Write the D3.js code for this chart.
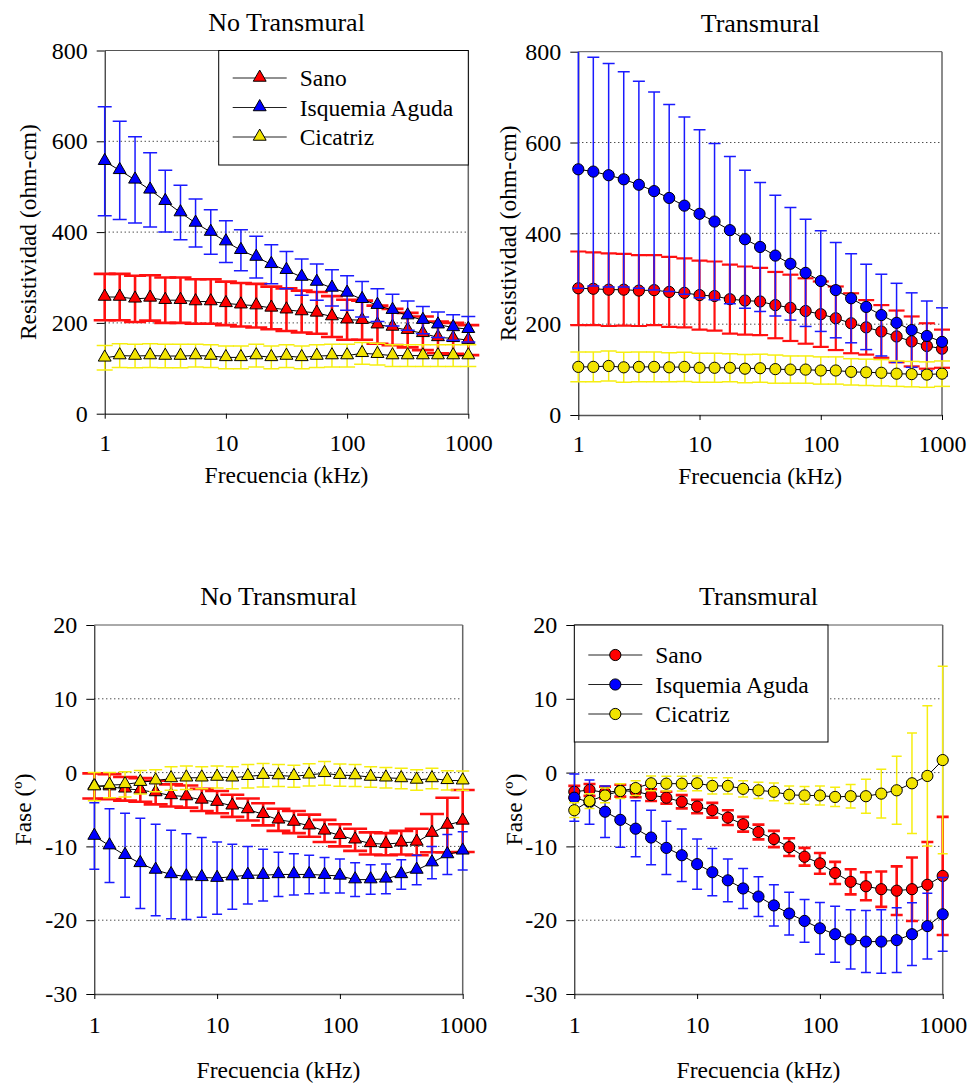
<!DOCTYPE html>
<html>
<head>
<meta charset="utf-8">
<script src="https://cdn.jsdelivr.net/npm/d3@7"></script>
<style>
body { margin: 0; background: #fff; }
svg, svg text { font-family: "Liberation Serif", "Times New Roman", Times, serif; }
</style>
</head>
<body>
<div id="chart"></div>
<script>
// frecuencias (kHz)
const freq = [1, 1.33, 1.78, 2.37, 3.16, 4.22, 5.62, 7.5, 10, 13.3, 17.8, 23.7, 31.6, 42.2, 56.2, 75, 100, 133, 178, 237, 316, 422, 562, 750, 1000];
const seriesNames = ["Sano", "Isquemia Aguda", "Cicatriz"];
const resTicks = [0, 200, 400, 600, 800];
const faseTicks = [20, 10, 0, -10, -20, -30];
const freqTicks = [1, 10, 100, 1000];

// Resistividad, no transmural
const resNT_sano = [257, 257, 253, 255, 250, 250, 247, 247, 243, 240, 238, 233, 229, 225, 222, 214, 207, 206, 196, 191, 184, 177, 168, 166, 162];
const resNT_sano_err = [51, 51, 51, 50, 50, 50, 49, 49, 48, 48, 48, 47, 47, 46, 46, 45, 44, 43, 42, 40, 38, 37, 35, 34, 33];
const resNT_isq = [556, 536, 515, 493, 468, 443, 420, 400, 379, 360, 345, 329, 316, 301, 290, 277, 266, 252, 239, 228, 216, 206, 196, 190, 186];
const resNT_isq_err = [120, 108, 95, 82, 68, 60, 53, 49, 46, 45, 46, 43, 41, 40, 40, 40, 38, 39, 36, 35, 32, 30, 28, 28, 28];
const resNT_cic = [123, 128, 127, 128, 127, 127, 128, 127, 124, 124, 128, 124, 127, 124, 127, 128, 128, 133, 131, 128, 128, 128, 128, 128, 128];
const resNT_cic_err = [27, 26, 26, 26, 26, 26, 25, 25, 25, 25, 25, 25, 25, 25, 25, 25, 25, 24, 24, 24, 24, 24, 24, 24, 24];

// Resistividad, transmural
const resT_sano = [279, 278, 276, 276, 274, 275, 271, 269, 264, 262, 255, 252, 250, 242, 236, 229, 222, 213, 202, 193, 184, 173, 162, 152, 146];
const resT_sano_err = [81, 80, 80, 79, 78, 77, 77, 76, 76, 76, 76, 75, 74, 73, 73, 72, 72, 70, 66, 60, 58, 57, 55, 50, 42];
const resT_isq = [541, 536, 528, 519, 507, 493, 478, 461, 443, 426, 407, 387, 370, 351, 333, 313, 295, 275, 257, 238, 220, 203, 187, 174, 161];
const resT_isq_err = [262, 252, 246, 237, 228, 218, 206, 195, 185, 172, 162, 152, 142, 133, 124, 118, 111, 105, 98, 94, 90, 87, 82, 77, 75];
const resT_cic = [106, 106, 108, 105, 106, 106, 105, 106, 104, 104, 104, 102, 103, 101, 100, 100, 98, 98, 95, 94, 93, 91, 90, 89, 91];
const resT_cic_err = [33, 33, 33, 33, 33, 33, 32, 32, 32, 32, 31, 31, 31, 31, 30, 30, 30, 30, 29, 29, 29, 28, 28, 28, 28];

// Fase, no transmural
const faseNT_sano = [-1.8, -1.9, -2.2, -2.35, -2.7, -3.1, -3.25, -3.7, -4.0, -4.5, -5.0, -5.65, -6.4, -6.7, -7.2, -7.9, -8.5, -9.1, -9.6, -9.7, -9.5, -9.4, -8.2, -7.1, -6.55];
const faseNT_sano_err = [1.7, 1.7, 1.6, 1.6, 1.6, 1.5, 1.5, 1.5, 1.5, 1.5, 1.5, 1.5, 1.5, 1.5, 1.5, 1.5, 1.5, 1.5, 1.5, 1.5, 1.6, 1.8, 2.6, 3.7, 4.2];
const faseNT_isq = [-8.6, -9.9, -11.2, -12.3, -13.2, -13.8, -14.1, -14.2, -14.3, -14.1, -13.9, -13.9, -13.8, -13.8, -13.8, -13.9, -14.0, -14.5, -14.5, -14.4, -13.8, -13.2, -12.2, -11.1, -10.6];
const faseNT_isq_err = [4.5, 5.0, 5.7, 6.1, 6.2, 6.0, 5.8, 5.4, 4.9, 4.4, 3.9, 3.5, 3.0, 2.8, 2.6, 2.4, 2.3, 2.3, 2.0, 2.0, 2.0, 2.0, 2.2, 2.7, 2.6];
const faseNT_cic = [-1.9, -1.7, -1.6, -1.3, -1.1, -0.8, -0.7, -0.7, -0.6, -0.7, -0.5, -0.35, -0.4, -0.5, -0.3, -0.1, -0.35, -0.4, -0.6, -0.7, -0.8, -1.0, -0.8, -1.05, -1.1];
const faseNT_cic_err = [1.9, 1.7, 1.7, 1.6, 1.5, 1.6, 1.6, 1.5, 1.5, 1.5, 1.6, 1.6, 1.5, 1.5, 1.5, 1.6, 1.5, 1.5, 1.4, 1.4, 1.4, 1.4, 1.4, 1.3, 1.3];

// Fase, transmural
const faseT_sano = [-2.6, -2.35, -2.7, -2.45, -2.55, -3.05, -3.4, -3.95, -4.6, -5.1, -6.1, -7.0, -8.05, -9.0, -10.1, -11.4, -12.3, -13.6, -14.8, -15.4, -15.8, -16.0, -15.8, -15.2, -14.0];
const faseT_sano_err = [0.8, 0.8, 0.8, 0.8, 0.8, 0.8, 0.8, 0.9, 0.9, 1.0, 1.0, 1.0, 1.0, 1.1, 1.2, 1.2, 1.4, 1.5, 1.7, 1.9, 2.4, 3.3, 4.3, 5.8, 8.0];
const faseT_isq = [-3.4, -4.0, -5.3, -6.4, -7.6, -8.8, -10.2, -11.2, -12.4, -13.5, -14.6, -15.7, -16.8, -18.0, -19.1, -20.1, -21.1, -21.9, -22.6, -22.9, -22.9, -22.7, -21.9, -20.8, -19.2];
const faseT_isq_err = [3.2, 3.0, 3.5, 3.7, 3.8, 3.7, 3.6, 3.55, 3.4, 3.2, 2.9, 2.7, 2.7, 2.8, 2.9, 2.9, 3.5, 3.8, 4.0, 4.2, 4.3, 4.4, 4.25, 4.45, 5.0];
const faseT_cic = [-5.1, -3.85, -3.1, -2.5, -2.1, -1.45, -1.5, -1.5, -1.45, -1.8, -1.8, -2.2, -2.4, -2.6, -3.0, -3.1, -3.1, -3.3, -3.2, -3.2, -2.85, -2.4, -1.45, -0.45, 1.7];
const faseT_cic_err = [1.0, 1.0, 1.0, 1.0, 1.0, 1.0, 1.0, 1.0, 1.0, 1.1, 1.1, 1.1, 1.1, 1.2, 1.2, 1.2, 1.3, 1.3, 1.6, 2.3, 3.3, 4.6, 6.8, 9.5, 12.7];

const fillColors = ["#ff0000", "#0000ff", "#f2e400"];
const barColors = ["#ff1010", "#1a1aff", "#f6ee10"];
const serif = '"Liberation Serif", "Times New Roman", Times, serif';

const svg = d3.select("#chart").append("svg")
    .attr("width", 978)
    .attr("height", 1086)
    .attr("font-family", serif);

let clipId = 0;

function drawPanel(p) {
    const x = d3.scaleLog().domain([1, 1000]).range([p.left, p.right]);
    const y = d3.scaleLinear().domain(p.yDomain).range([p.bottom, p.top]);
    const g = svg.append("g");

    clipId++;
    g.append("clipPath").attr("id", "clip" + clipId)
        .append("rect")
        .attr("x", p.left - 30).attr("y", p.top)
        .attr("width", p.right - p.left + 60).attr("height", p.bottom - p.top);

    // rejilla punteada
    g.selectAll(".grid").data(p.grid).enter().append("line")
        .attr("x1", p.left).attr("x2", p.right)
        .attr("y1", d => y(d)).attr("y2", d => y(d))
        .attr("stroke", "#000").attr("stroke-width", 1)
        .attr("stroke-dasharray", "1,3");

    // marco superior y derecho
    g.append("line").attr("x1", p.left).attr("x2", p.right).attr("y1", p.top).attr("y2", p.top)
        .attr("stroke", "#555");
    g.append("line").attr("x1", p.right).attr("x2", p.right).attr("y1", p.top).attr("y2", p.bottom)
        .attr("stroke", "#666").attr("stroke-width", 1.5);

    // ejes
    const xa = g.append("g").attr("transform", "translate(0," + p.bottom + ")")
        .call(d3.axisBottom(x).tickValues(freqTicks).tickFormat(d => String(d))
            .tickSize(5).tickSizeOuter(0).tickPadding(p.xPad));
    xa.attr("font-family", serif);
    xa.select(".domain").attr("stroke", "#555").attr("stroke-width", 1.5);
    xa.selectAll("text").style("font-size", "24px").style("font-family", serif);

    const ya = g.append("g").attr("transform", "translate(" + p.left + ",0)")
        .call(d3.axisLeft(y).tickValues(p.ticks).tickFormat(d => String(d))
            .tickSize(8).tickSizeOuter(0).tickPadding(9));
    ya.attr("font-family", serif);
    ya.selectAll("text").style("font-size", "24px").style("font-family", serif);

    // series
    p.series.forEach((s, si) => {
        const pts = freq.map((f, i) => ({ f: f, v: s.values[i], e: s.err[i] }));
        const eb = g.append("g").attr("clip-path", "url(#clip" + clipId + ")")
            .attr("stroke", barColors[si]).attr("stroke-width", s.bw);
        eb.selectAll(".v").data(pts).enter().append("line")
            .attr("x1", d => x(d.f)).attr("x2", d => x(d.f))
            .attr("y1", d => y(d.v - d.e)).attr("y2", d => y(d.v + d.e));
        eb.selectAll(".ct").data(pts).enter().append("line")
            .attr("x1", d => x(d.f) - s.cap / 2).attr("x2", d => x(d.f) + s.cap / 2)
            .attr("y1", d => y(d.v + d.e)).attr("y2", d => y(d.v + d.e));
        eb.selectAll(".cb").data(pts).enter().append("line")
            .attr("x1", d => x(d.f) - s.cap / 2).attr("x2", d => x(d.f) + s.cap / 2)
            .attr("y1", d => y(d.v - d.e)).attr("y2", d => y(d.v - d.e));

        const line = d3.line().x(d => x(d.f)).y(d => y(d.v));
        g.append("path").attr("d", line(pts))
            .attr("fill", "none").attr("stroke", "#000").attr("stroke-width", 1);

        drawMarkers(g, pts.map(d => [x(d.f), y(d.v)]), p.shape, fillColors[si]);
    });

    // título y etiquetas
    g.append("text").attr("x", (p.left + p.right) / 2).attr("y", p.top - 20)
        .attr("text-anchor", "middle").style("font-size", "26px").style("font-family", serif).text(p.title);
    g.append("text").attr("x", (p.left + p.right) / 2).attr("y", p.xLabelY)
        .attr("text-anchor", "middle").style("font-size", "23.5px").style("font-family", serif).text("Frecuencia (kHz)");
    g.append("text").attr("transform", "translate(" + p.yLabelX + "," + (p.top + p.bottom) / 2 + ") rotate(-90)")
        .attr("text-anchor", "middle").style("font-size", "23.5px").style("font-family", serif).text(p.yLabel);

    if (p.legend) drawLegend(g, p.legend, p.shape);
}

function drawMarkers(g, xy, shape, color) {
    if (shape === "triangle") {
        g.selectAll(null).data(xy).enter().append("path")
            .attr("d", d3.symbol(d3.symbolTriangle).size(72))
            .attr("transform", d => "translate(" + d[0] + "," + (d[1] - 0.5) + ")")
            .attr("fill", color).attr("stroke", "#000").attr("stroke-width", 1);
    } else {
        g.selectAll(null).data(xy).enter().append("circle")
            .attr("cx", d => d[0]).attr("cy", d => d[1]).attr("r", 5.6)
            .attr("fill", color).attr("stroke", "#000").attr("stroke-width", 1);
    }
}

function drawLegend(g, L, shape) {
    g.append("rect").attr("x", L.x).attr("y", L.y).attr("width", L.w).attr("height", L.h)
        .attr("fill", "#fff").attr("stroke", "#000").attr("stroke-width", 1);
    seriesNames.forEach((name, i) => {
        const cy = L.y + L.row0 + i * L.step;
        g.append("line").attr("x1", L.x + 14).attr("x2", L.x + 68).attr("y1", cy).attr("y2", cy)
            .attr("stroke", "#222").attr("stroke-width", 1);
        drawMarkers(g, [[L.x + 41, cy]], shape, fillColors[i]);
        g.append("text").attr("x", L.x + 81).attr("y", cy + 8)
            .style("font-size", "23.5px").style("font-family", serif).text(name);
    });
}

drawPanel({
    left: 104.7, right: 468.3, top: 50.5, bottom: 413.7,
    yDomain: [0, 800], ticks: resTicks, grid: [200, 400, 600],
    title: "No Transmural", yLabel: "Resistividad (ohm-cm)", yLabelX: 36, xLabelY: 483, xPad: 15,
    shape: "triangle",
    series: [
        { values: resNT_sano, err: resNT_sano_err, bw: 2.6, cap: 22 },
        { values: resNT_isq, err: resNT_isq_err, bw: 1.5, cap: 14 },
        { values: resNT_cic, err: resNT_cic_err, bw: 1.5, cap: 16 }
    ],
    legend: { x: 218.7, y: 50.5, w: 249.6, h: 114.5, row0: 27.5, step: 29.5 }
});

drawPanel({
    left: 578.3, right: 942, top: 51.7, bottom: 415,
    yDomain: [0, 800], ticks: resTicks, grid: [200, 400, 600],
    title: "Transmural", yLabel: "Resistividad (ohm-cm)", yLabelX: 516, xLabelY: 484, xPad: 15,
    shape: "circle",
    series: [
        { values: resT_sano, err: resT_sano_err, bw: 2.2, cap: 16 },
        { values: resT_isq, err: resT_isq_err, bw: 1.5, cap: 12 },
        { values: resT_cic, err: resT_cic_err, bw: 1.5, cap: 16 }
    ]
});

drawPanel({
    left: 94.3, right: 462.7, top: 625, bottom: 994,
    yDomain: [-30, 20], ticks: faseTicks, grid: [10, 0, -10, -20],
    title: "No Transmural", yLabel: "Fase (º)", yLabelX: 31, xLabelY: 1078, xPad: 17,
    shape: "triangle",
    series: [
        { values: faseNT_sano, err: faseNT_sano_err, bw: 2.6, cap: 24 },
        { values: faseNT_isq, err: faseNT_isq_err, bw: 1.5, cap: 10 },
        { values: faseNT_cic, err: faseNT_cic_err, bw: 1.5, cap: 13 }
    ]
});

drawPanel({
    left: 574.3, right: 942.7, top: 625, bottom: 994,
    yDomain: [-30, 20], ticks: faseTicks, grid: [10, 0, -10, -20],
    title: "Transmural", yLabel: "Fase (º)", yLabelX: 522, xLabelY: 1078, xPad: 17,
    shape: "circle",
    series: [
        { values: faseT_sano, err: faseT_sano_err, bw: 2.6, cap: 12 },
        { values: faseT_isq, err: faseT_isq_err, bw: 1.5, cap: 10 },
        { values: faseT_cic, err: faseT_cic_err, bw: 1.5, cap: 10 }
    ],
    legend: { x: 574.3, y: 625, w: 253.7, h: 117, row0: 30, step: 29.5 }
});
</script>
</body>
</html>
